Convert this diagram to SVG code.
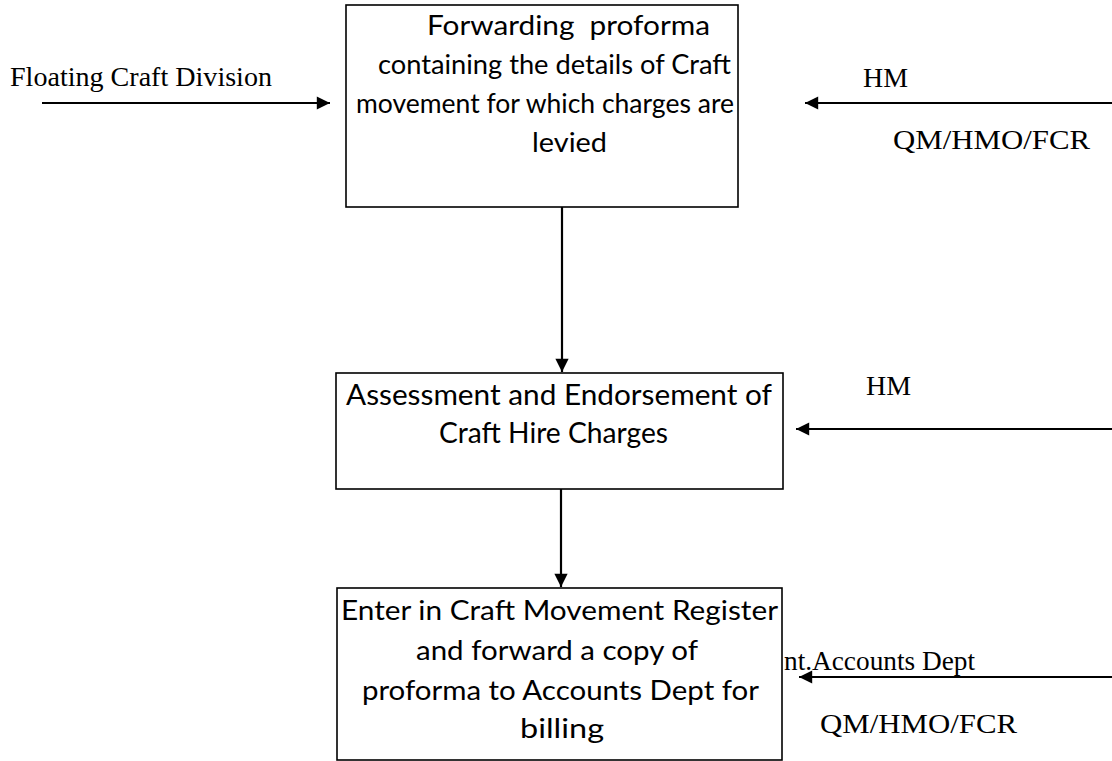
<svg xmlns="http://www.w3.org/2000/svg" width="1112" height="761" viewBox="0 0 1112 761">
  <style>
    .box { fill: #ffffff; stroke: #000000; stroke-width: 1.6; }
    .bt { font-family: Lato, "Open Sans", "Liberation Sans", sans-serif; fill: #000000; }
    .lbl { font-family: "Liberation Serif", "DejaVu Serif", serif; font-size: 27px; fill: #000000; }
    .conn { stroke: #000000; stroke-width: 2.2; fill: none; marker-end: url(#head); }
  </style>
  <defs>
    <marker id="head" viewBox="0 0 10 10" refX="10" refY="5" markerWidth="7" markerHeight="6" markerUnits="strokeWidth" orient="auto">
      <path d="M0,0 L10,5 L0,10 Z" fill="#000000"/>
    </marker>
  </defs>

  <rect width="1112" height="761" fill="#ffffff"/>

  <!-- side labels -->
  <g id="labels">
    <text class="lbl" x="10" y="86" textLength="262" lengthAdjust="spacingAndGlyphs">Floating Craft Division</text>
    <text class="lbl" x="863" y="87" textLength="45" lengthAdjust="spacingAndGlyphs">HM</text>
    <text class="lbl" x="893" y="149" textLength="197" lengthAdjust="spacingAndGlyphs">QM/HMO/FCR</text>
    <text class="lbl" x="866" y="395" textLength="45" lengthAdjust="spacingAndGlyphs">HM</text>
    <text class="lbl" x="784" y="670" textLength="191" lengthAdjust="spacingAndGlyphs">nt.Accounts Dept</text>
    <text class="lbl" x="820" y="733" textLength="197" lengthAdjust="spacingAndGlyphs">QM/HMO/FCR</text>
  </g>

  <!-- connectors -->
  <g id="connectors">
    <line class="conn" x1="42" y1="103" x2="330" y2="103"/>
    <line class="conn" x1="1112" y1="103" x2="805" y2="103"/>
    <line class="conn" x1="1112" y1="429" x2="796" y2="429"/>
    <line class="conn" x1="1112" y1="677" x2="799" y2="677"/>
    <line class="conn" x1="562" y1="207" x2="562" y2="372"/>
    <line class="conn" x1="561" y1="489" x2="561" y2="587"/>
  </g>

  <!-- process steps -->
  <g id="forwarding-proforma">
    <rect class="box" x="346" y="5" width="392" height="202"/>
    <g class="bt" font-size="26">
      <text x="427" y="35" xml:space="preserve" textLength="283" lengthAdjust="spacingAndGlyphs">Forwarding  proforma</text>
      <text x="378" y="74" textLength="353" lengthAdjust="spacingAndGlyphs">containing the details of Craft</text>
      <text x="356" y="113" textLength="378" lengthAdjust="spacingAndGlyphs">movement for which charges are</text>
      <text x="532" y="152" textLength="75" lengthAdjust="spacingAndGlyphs">levied</text>
    </g>
  </g>

  <g id="assessment-endorsement">
    <rect class="box" x="336" y="373" width="447" height="116"/>
    <g class="bt" font-size="28">
      <text x="346" y="405" textLength="426" lengthAdjust="spacingAndGlyphs">Assessment and Endorsement of</text>
      <text x="439" y="443" textLength="229" lengthAdjust="spacingAndGlyphs">Craft Hire Charges</text>
    </g>
  </g>

  <g id="enter-register">
    <rect class="box" x="337" y="588" width="445" height="172"/>
    <g class="bt" font-size="27">
      <text x="341" y="620" textLength="437" lengthAdjust="spacingAndGlyphs">Enter in Craft Movement Register</text>
      <text x="416" y="660" textLength="282" lengthAdjust="spacingAndGlyphs">and forward a copy of</text>
      <text x="362" y="700" textLength="397" lengthAdjust="spacingAndGlyphs">proforma to Accounts Dept for</text>
      <text x="520" y="738" textLength="84" lengthAdjust="spacingAndGlyphs">billing</text>
    </g>
  </g>
</svg>
